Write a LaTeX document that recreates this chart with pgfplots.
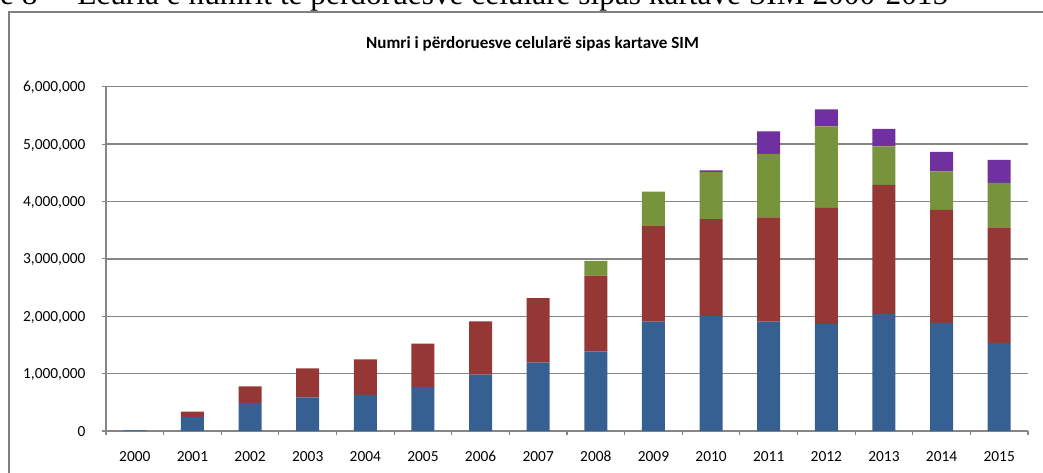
\documentclass[border=0pt]{standalone}
\usepackage{pgfplots}
\usepackage{pgfplotstable}
\pgfplotsset{compat=1.18}
\usepackage{fontspec}
\setmainfont{Carlito}
\newfontfamily\capfont{Liberation Serif}
\definecolor{sblue}{RGB}{55,96,146}
\definecolor{sred}{RGB}{149,55,53}
\definecolor{sgreen}{RGB}{119,147,60}
\definecolor{spurple}{RGB}{112,48,160}
\definecolor{gridgray}{RGB}{134,134,134}
\definecolor{framegray}{RGB}{128,128,128}

\pgfplotstableread{
year blue red green purple
0 12000 0 0 0
1 245000 94000 0 0
2 490000 287000 0 0
3 584000 508000 0 0
4 630000 619000 0 0
5 771000 753000 0 0
6 981000 928000 0 0
7 1191000 1127000 0 0
8 1389000 1320000 257000 0
9 1905000 1665000 604000 0
10 2006000 1686000 820000 29000
11 1907000 1814000 1110000 390000
12 1866000 2024000 1418000 297000
13 2041000 2250000 671000 305000
14 1884000 1971000 668000 343000
15 1535000 2012000 779000 401000
}\datatable

\begin{document}
\begin{tikzpicture}
\useasboundingbox (0,0) rectangle (782.25pt,354pt);
\clip (0,0) rectangle (782.25pt,354pt);
\node[anchor=base west, inner sep=0pt, font=\capfont\fontsize{23.5}{28}\selectfont] at (57.75pt,350.6pt) {Ecuria e numrit të përdoruesve celularë sipas kartave SIM 2000-2015};
\node[anchor=base east, inner sep=0pt, font=\capfont\fontsize{23.5}{28}\selectfont] at (57.75pt,350.6pt) {Figure 8 —\ };
\draw[framegray, line width=1.5pt] (7.1pt,-5pt) -- (7.1pt,345pt) -- (800pt,345pt);
\begin{axis}[
  at={(79.5pt,30.75pt)}, anchor=south west,
  scale only axis, width=691.5pt, height=258.2pt,
  xmin=-0.5, xmax=15.5, ymin=0, ymax=6000000,
  axis lines*=left,
  axis line style={gridgray, line width=1pt},
  ybar stacked, bar width=17.25pt,
  xtick={-0.5,0.5,...,15.5}, x tick label as interval,
  xticklabels={2000,2001,2002,2003,2004,2005,2006,2007,2008,2009,2010,2011,2012,2013,2014,2015},
  ytick={0,1000000,2000000,3000000,4000000,5000000,6000000},
  yticklabels={0,{1,000,000},{2,000,000},{3,000,000},{4,000,000},{5,000,000},{6,000,000}},
  scaled y ticks=false,
  ymajorgrids, grid style={gridgray, line width=1pt},
  tick align=outside, major tick length=3.2pt,
  tick style={gridgray, line width=0.8pt},
  xticklabel style={anchor=base, yshift=-19.7pt, inner sep=0pt, font=\fontsize{11.55}{13}\selectfont},
  yticklabel style={anchor=base east, xshift=-12pt, yshift=-3.75pt, inner sep=0pt, font=\fontsize{11.55}{13}\selectfont},
]
\addplot[fill=sblue, draw=none] table[x=year,y=blue] {\datatable};
\addplot[fill=sred, draw=none] table[x=year,y=red] {\datatable};
\addplot[fill=sgreen, draw=none] table[x=year,y=green] {\datatable};
\addplot[fill=spurple, draw=none] table[x=year,y=purple] {\datatable};
\end{axis}
\node[anchor=base, inner sep=0pt, font=\bfseries\fontsize{12.8}{15}\selectfont] at (399.4pt,317.8pt) {Numri i përdoruesve celularë sipas kartave SIM};
\end{tikzpicture}
\end{document}
